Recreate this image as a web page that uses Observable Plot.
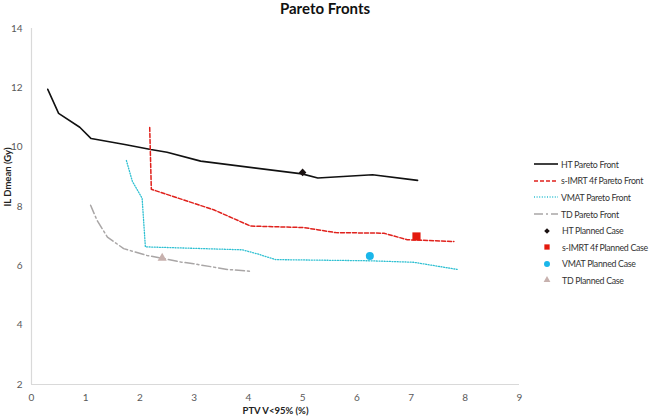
<!DOCTYPE html>
<html>
<head>
<meta charset="utf-8">
<script src="https://cdn.jsdelivr.net/npm/d3@7"></script>
<script src="https://cdn.jsdelivr.net/npm/@observablehq/plot@0.6"></script>
<style>
  body { margin: 0; background: #fff; font-family: Lato, "Open Sans", sans-serif; }
  #wrap { position: relative; width: 650px; height: 419px; overflow: hidden; }
  #title { position: absolute; left: 0; width: 650px; top: -1px; text-align: center; font-weight: bold; font-size: 15px; color: #111; }
  #legend { position: absolute; left: 533px; top: 156px; width: 130px; font-size: 8.8px; letter-spacing: -0.3px; color: #333; }
  .row { height: 16.6px; display: flex; align-items: center; white-space: nowrap; }
  .row svg { flex: none; margin-right: 2px; }
</style>
</head>
<body>
<div id="wrap">
  <div id="title">Pareto Fronts</div>
  <div id="legend"></div>
</div>
<script>
// ---- data ----
const htX = [0.30, 0.50, 0.89, 1.10, 1.72, 2.20, 2.50, 3.12, 4.99, 5.28, 6.29, 7.12];
const htY = [11.95, 11.14, 10.67, 10.29, 10.09, 9.92, 9.83, 9.53, 9.10, 8.96, 9.07, 8.88];

const imrtX = [2.18, 2.21, 3.36, 4.04, 5.02, 5.27, 5.61, 6.50, 6.93, 7.79];
const imrtY = [10.66, 8.58, 7.89, 7.34, 7.29, 7.22, 7.12, 7.10, 6.88, 6.82];

const vmatX = [1.75, 1.86, 2.04, 2.10, 3.89, 4.19, 4.50, 6.25, 7.05, 7.85];
const vmatY = [9.55, 8.85, 8.28, 6.64, 6.54, 6.39, 6.21, 6.17, 6.12, 5.88];

const tdX = [1.09, 1.21, 1.40, 1.70, 2.13, 2.75, 2.99, 3.61, 4.07];
const tdY = [8.04, 7.53, 6.97, 6.58, 6.35, 6.13, 6.07, 5.88, 5.81];

const planNames = ["HT Planned Case", "s-IMRT 4f Planned Case", "VMAT Planned Case", "TD Planned Case"];
const planX = [5.00, 7.10, 6.24, 2.41];
const planY = [9.15, 6.99, 6.33, 6.26];

const frontNames = ["HT Pareto Front", "s-IMRT 4f Pareto Front", "VMAT Pareto Front", "TD Pareto Front"];
const xTicks = [0, 1, 2, 3, 4, 5, 6, 7, 8, 9];
const yTicks = [2, 4, 6, 8, 10, 12, 14];

// ---- styles ----
const fronts = [
  {name: frontNames[0], xs: htX, ys: htY, stroke: "#111111", width: 1.6, dash: null},
  {name: frontNames[1], xs: imrtX, ys: imrtY, stroke: "#e0211c", width: 1.5, dash: "4,2"},
  {name: frontNames[2], xs: vmatX, ys: vmatY, stroke: "#2fc0d2", width: 1.3, dash: "1,1.6"},
  {name: frontNames[3], xs: tdX, ys: tdY, stroke: "#a9a6a6", width: 1.5, dash: "9,3,2,3"}
];
const plans = [
  {symbol: "diamond2", fill: "#1a1111", r: 3.4},
  {symbol: "square", fill: "#e3190d", r: 4.6},
  {symbol: "circle", fill: "#1ab6ea", r: 4},
  {symbol: "triangle", fill: "#c7b1ae", r: 3.4}
];

const toRows = (xs, ys) => xs.map((x, i) => ({x, y: ys[i]}));
const planRows = planX.map((x, i) => ({x, y: planY[i], name: planNames[i], i}));

const marks = [
  Plot.ruleX([0], {stroke: "#d9d9d9", strokeWidth: 1.2}),
  Plot.ruleY([2], {stroke: "#d9d9d9", strokeWidth: 1.2}),
  Plot.axisX({ticks: xTicks, tickSize: 0, tickPadding: 9, fontSize: 10, fill: "#595959", label: null}),
  Plot.axisY({ticks: yTicks, tickSize: 0, tickPadding: 9, fontSize: 10, fill: "#595959", label: null}),
];
for (const f of fronts) {
  marks.push(Plot.line(toRows(f.xs, f.ys), {x: "x", y: "y", stroke: f.stroke, strokeWidth: f.width, strokeDasharray: f.dash, curve: "linear"}));
}
planRows.forEach((p, i) => {
  marks.push(Plot.dot([p], {x: "x", y: "y", symbol: () => plans[i].symbol, fill: plans[i].fill, r: plans[i].r, stroke: "none"}));
});
marks.push(Plot.text(["PTV V<95% (%)"], {frameAnchor: "bottom", dy: 29, fontSize: 9.5, fontWeight: "bold", fill: "#222", text: d => d}));
marks.push(Plot.text(["IL Dmean (Gy)"], {frameAnchor: "left", dx: -24, rotate: -90, fontSize: 9.5, fontWeight: "bold", fill: "#222", text: d => d}));

const chart = Plot.plot({
  width: 650,
  height: 419,
  marginLeft: 31,
  marginRight: 131,
  marginTop: 28,
  marginBottom: 35,
  style: {fontFamily: "Lato, 'Open Sans', sans-serif", background: "#fff", overflow: "visible"},
  x: {domain: [0, 9]},
  y: {domain: [2, 14]},
  marks
});
const wrap = document.getElementById("wrap");
wrap.insertBefore(chart, wrap.firstChild);

// ---- legend ----
const legend = document.getElementById("legend");
const NS = "http://www.w3.org/2000/svg";
fronts.forEach(f => {
  const row = document.createElement("div"); row.className = "row";
  const s = document.createElementNS(NS, "svg"); s.setAttribute("width", 26); s.setAttribute("height", 10);
  const l = document.createElementNS(NS, "line");
  l.setAttribute("x1", 1); l.setAttribute("x2", 25); l.setAttribute("y1", 5); l.setAttribute("y2", 5);
  l.setAttribute("stroke", f.stroke); l.setAttribute("stroke-width", f.width);
  if (f.dash) l.setAttribute("stroke-dasharray", f.dash);
  s.appendChild(l); row.appendChild(s);
  const t = document.createElement("span"); t.textContent = f.name; row.appendChild(t);
  legend.appendChild(row);
});
const symMap = {diamond2: d3.symbolDiamond2, square: d3.symbolSquare, circle: d3.symbolCircle, triangle: d3.symbolTriangle};
planRows.forEach((p, i) => {
  const row = document.createElement("div"); row.className = "row";
  const s = document.createElementNS(NS, "svg"); s.setAttribute("width", 26); s.setAttribute("height", 10);
  const path = document.createElementNS(NS, "path");
  const size = i === 0 ? 20 : (i === 3 ? 20 : 28);
  path.setAttribute("d", d3.symbol(symMap[plans[i].symbol], size)());
  path.setAttribute("transform", "translate(14,5)");
  path.setAttribute("fill", plans[i].fill);
  s.appendChild(path); row.appendChild(s);
  const sp = document.createElement("span"); sp.style.marginLeft = "1px"; sp.textContent = p.name; row.appendChild(sp);
  legend.appendChild(row);
});
</script>
</body>
</html>
